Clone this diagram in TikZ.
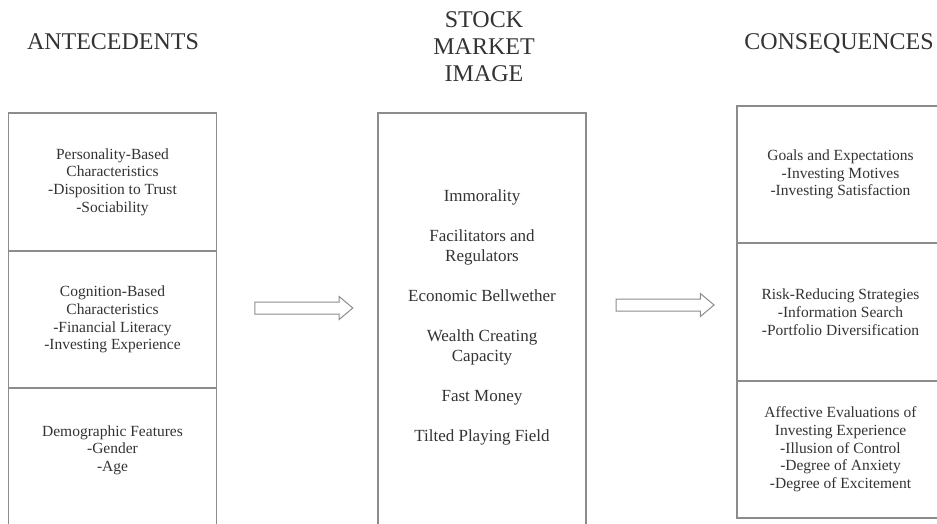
\documentclass[tikz,border=0pt]{standalone}
\usepackage{fontspec}
\setmainfont{Liberation Serif}
\usetikzlibrary{shapes.arrows}
\definecolor{frame-gray}{HTML}{8C8C8C}
\definecolor{ink}{HTML}{333333}
\tikzset{
  heading/.style={align=center, text=ink, font=\fontsize{24}{27}\selectfont},
  column-box/.style={draw=frame-gray, line width=1.3pt, minimum width=208pt, inner sep=0pt, align=center, text=ink, font=\fontsize{15.5}{17.7}\selectfont},
  column-text/.style={align=center, text=ink, font=\fontsize{15.5}{17.7}\selectfont},
  image-text/.style={align=center, text=ink, font=\fontsize{17}{20}\selectfont},
  block-arrow/.style={single arrow, draw=frame-gray, fill=white, line width=1pt, inner sep=5.5pt, minimum height=98pt, single arrow head extend=5.5pt, single arrow tip angle=80, single arrow head indent=0pt},
}

\begin{document}
\begin{tikzpicture}[x=1pt, y=-1pt]
\useasboundingbox (0, 0) rectangle (937, 523);
% headings
\node[heading, anchor=base] at (113, 49) (antecedents) {ANTECEDENTS};
\node[heading] at (484, 47) (stock market image) {STOCK\\MARKET\\IMAGE};
\node[heading, anchor=base] at (839, 49) (consequences) {CONSEQUENCES};
% antecedents
\node[column-box, minimum height=138pt] at (112.5, 182) (personality) {Personality-Based\\Characteristics\\-Disposition to Trust\\-Sociability};
\node[column-box, minimum height=137pt] at (112.5, 319.5) (cognition) {Cognition-Based\\Characteristics\\-Financial Literacy\\-Investing Experience};
\node[column-box, minimum height=152pt] at (112.5, 464) (demographic box) {};
\node[column-text] at (112.5, 450) (demographic) {Demographic Features\\-Gender\\-Age};
% stock market image
\node[column-box, minimum height=427pt] at (482, 326.5) (image box) {};
\node[image-text] at (482, 317) (image items) {Immorality\\[20pt]Facilitators and\\Regulators\\[20pt]Economic Bellwether\\[20pt]Wealth Creating\\Capacity\\[20pt]Fast Money\\[20pt]Tilted Playing Field};
% consequences
\node[column-box, minimum width=207pt, minimum height=137pt] at (840.5, 174.5) (goals) {Goals and Expectations\\-Investing Motives\\-Investing Satisfaction};
\node[column-box, minimum width=207pt, minimum height=138pt] at (840.5, 312) (risk) {Risk-Reducing Strategies\\-Information Search\\-Portfolio Diversification};
\node[column-box, minimum width=207pt, minimum height=137pt] at (840.5, 449.5) (affective) {Affective Evaluations of\\Investing Experience\\-Illusion of Control\\-Degree of Anxiety\\-Degree of Excitement};
% arrows
\path (cognition.east |- 0,308) -- (image box.west |- 0,308)
  node[block-arrow, midway, xshift=3pt] (to image) {};
\path (image box.east |- 0,305) -- (risk.west |- 0,305)
  node[block-arrow, midway] (to consequences) {};
\end{tikzpicture}
\end{document}
